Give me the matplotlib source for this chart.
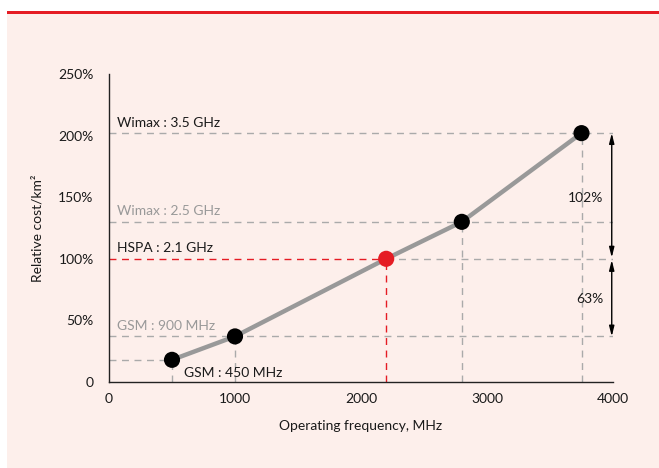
import matplotlib.pyplot as plt
from matplotlib.patches import Rectangle

plt.rcParams['font.family'] = ['Lato', 'DejaVu Sans']

# data
freq = [500, 1000, 2200, 2800, 3750]  # MHz
cost = [18, 37, 100, 130, 202]  # relative cost/km2, %
labels = ['GSM : 450 MHz', 'GSM : 900 MHz', 'HSPA : 2.1 GHz',
          'Wimax : 2.5 GHz', 'Wimax : 3.5 GHz']
ref = 2  # HSPA is the reference point
yticks = [0, 50, 100, 150, 200, 250]
ytick_labels = ['0', '50%', '100%', '150%', '200%', '250%']
xticks = [0, 1000, 2000, 3000, 4000]

bg = '#fdefeb'
red = '#e51c24'
grey_line = '#999999'
grey_dash = '#aaaaaa'
fs = 10

fig = plt.figure(figsize=(6.59, 4.68), dpi=100)
# panel background + red top rule
fig.patches.append(Rectangle((7/659, 0), 652/659, 455/468, transform=fig.transFigure,
                             facecolor=bg, edgecolor='none', zorder=-2))
fig.patches.append(Rectangle((7/659, 454.5/468), 652/659, 2.5/468, transform=fig.transFigure,
                             facecolor=red, edgecolor='none', zorder=-1))

ax = fig.add_axes([109/659, 86/468, 504/659, 308/468])
ax.set_facecolor('none')
ax.set_xlim(0, 4000)
ax.set_ylim(0, 250)

dash = dict(lw=1, dashes=(5, 4))

# guide lines
for i, (f, c) in enumerate(zip(freq, cost)):
    col = red if i == ref else grey_dash
    ax.plot([f, f], [0, c], color=col, **dash, zorder=1)
    if i == 0:
        ax.plot([0, f], [c, c], color=grey_dash, **dash, zorder=1)
    elif i == ref:
        ax.plot([0, f], [c, c], color=red, **dash, zorder=1)
        ax.plot([f, 4000], [c, c], color=grey_dash, **dash, zorder=1)
    else:
        ax.plot([0, 4000], [c, c], color=grey_dash, **dash, zorder=1)

ax.plot(freq, cost, color=grey_line, lw=3.2, solid_capstyle='round', zorder=2)
colors = [red if i == ref else 'black' for i in range(len(freq))]
ax.scatter(freq, cost, s=135, c=colors, zorder=3, linewidths=0)

# level labels
text_cols = ['#1a1a1a', '#999999', '#1a1a1a', '#999999', '#1a1a1a']
for i, (lab, c) in enumerate(zip(labels, cost)):
    if i == 0:
        ax.text(freq[0] + 95, c - 11, lab, fontsize=fs, color=text_cols[i], va='center')
    else:
        ax.text(63, c + 8.5, lab, fontsize=fs, color=text_cols[i], va='center')

# difference arrows
arr = dict(arrowstyle='<|-|>,head_length=0.6,head_width=0.15', color='black', lw=1,
           shrinkA=0, shrinkB=0)
ax.annotate('', xy=(3990, cost[4]), xytext=(3990, cost[ref] + 1), arrowprops=arr)
ax.annotate('', xy=(3990, cost[ref] - 1), xytext=(3990, cost[1]), arrowprops=arr)
ax.text(3925, 149, f'{cost[4] - cost[ref]}%', fontsize=fs, ha='right', va='center', color='#1a1a1a')
ax.text(3925, 67, f'{cost[ref] - cost[1]}%', fontsize=fs, ha='right', va='center', color='#1a1a1a')

ax.set_xticks(xticks)
ax.set_yticks(yticks)
ax.set_yticklabels(ytick_labels)
ax.tick_params(length=0, labelsize=fs, colors='#1a1a1a')
ax.tick_params(axis='y', pad=11)
ax.tick_params(axis='x', pad=8)
for s in ['top', 'right']:
    ax.spines[s].set_visible(False)
for s in ['left', 'bottom']:
    ax.spines[s].set_color('#222222')
    ax.spines[s].set_linewidth(1)

ax.set_xlabel('Operating frequency, MHz', fontsize=fs, color='#1a1a1a', labelpad=11)
ax.set_ylabel('Relative cost/km²', fontsize=fs, color='#1a1a1a', labelpad=11)

fig.savefig('out.png', dpi=100)
